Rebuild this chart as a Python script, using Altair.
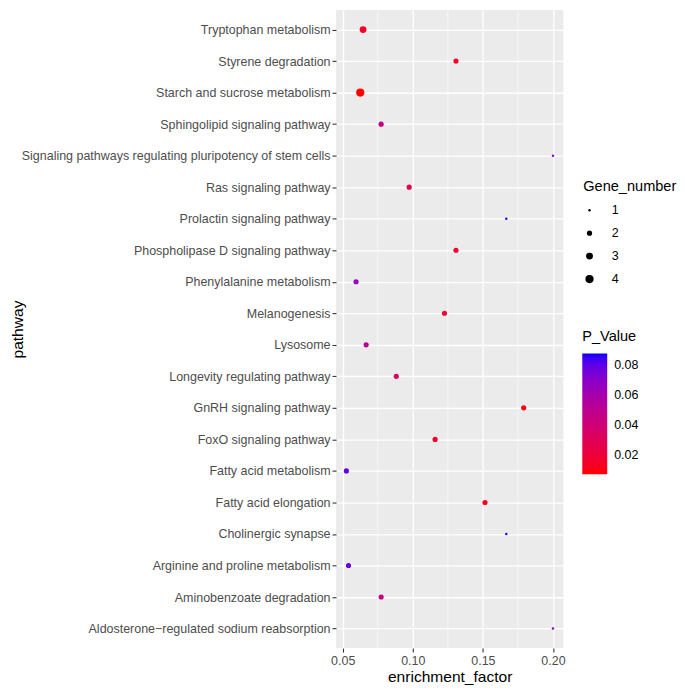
import altair as alt
import pandas as pd

pathways = [
    "Tryptophan metabolism",
    "Styrene degradation",
    "Starch and sucrose metabolism",
    "Sphingolipid signaling pathway",
    "Signaling pathways regulating pluripotency of stem cells",
    "Ras signaling pathway",
    "Prolactin signaling pathway",
    "Phospholipase D signaling pathway",
    "Phenylalanine metabolism",
    "Melanogenesis",
    "Lysosome",
    "Longevity regulating pathway",
    "GnRH signaling pathway",
    "FoxO signaling pathway",
    "Fatty acid metabolism",
    "Fatty acid elongation",
    "Cholinergic synapse",
    "Arginine and proline metabolism",
    "Aminobenzoate degradation",
    "Aldosterone\u2212regulated sodium reabsorption",
]
enrichment = [0.0645, 0.1308, 0.0625, 0.0774, 0.2000, 0.0974, 0.1667, 0.1308,
              0.0595, 0.1226, 0.0667, 0.0882, 0.1791, 0.1159, 0.0526, 0.1515,
              0.1667, 0.0541, 0.0774, 0.2000]
gene_number = [3, 2, 4, 2, 1, 2, 1, 2, 2, 2, 2, 2, 2, 2, 2, 2, 1, 2, 2, 1]
p_value = [0.015, 0.016, 0.007, 0.045, 0.070, 0.025, 0.087, 0.018, 0.065, 0.018,
           0.052, 0.035, 0.010, 0.016, 0.080, 0.012, 0.087, 0.078, 0.045, 0.070]

x_ticks = [0.05, 0.10, 0.15, 0.20]
x_minor = [0.075, 0.125, 0.175]

df = pd.DataFrame({
    "pathway": pathways,
    "enrichment_factor": enrichment,
    "Gene_number": gene_number,
    "P_Value": p_value,
})
minor_df = pd.DataFrame({"m": x_minor})

xscale = alt.Scale(domain=[0.0452, 0.2074], nice=False, zero=False)

minor = alt.Chart(minor_df).mark_rule(color="white", strokeWidth=0.6).encode(
    x=alt.X("m:Q", scale=xscale)
)

points = alt.Chart(df).mark_circle(opacity=1).encode(
    x=alt.X("enrichment_factor:Q", scale=xscale,
            axis=alt.Axis(values=x_ticks, format=".2f", title="enrichment_factor")),
    y=alt.Y("pathway:N", sort=pathways,
            scale=alt.Scale(type="point", padding=0.62),
            axis=alt.Axis(title="pathway", labelLimit=400, titleX=-311, titleY=320)),
    size=alt.Size("Gene_number:Q",
                  scale=alt.Scale(domain=[1, 4], range=[6, 68]),
                  legend=alt.Legend(values=[1, 2, 3, 4], format="d", orient="none",
                                    legendX=248, legendY=170, symbolFillColor="black",
                                    symbolStrokeWidth=0, rowPadding=10,
                                    labelOffset=16)),
    color=alt.Color("P_Value:Q",
                    scale=alt.Scale(domain=[0.007, 0.0875], range=["red", "blue"],
                                    interpolate="lab"),
                    legend=alt.Legend(values=[0.02, 0.04, 0.06, 0.08], format=".2f",
                                      orient="none", legendX=247, legendY=320,
                                      gradientLength=121, gradientThickness=25,
                                      labelOffset=7)),
)

chart = alt.layer(minor, points).properties(
    width=228, height=640,
    padding={"left": 3, "top": 0, "right": 0, "bottom": 0},
    background="white",
).configure_view(
    fill="#EBEBEB", stroke=None
).configure_axis(
    grid=True, gridColor="white", gridWidth=1.3, domain=False,
    tickColor="#333333", tickSize=4, tickWidth=1.1,
    labelFont="Liberation Sans", labelFontSize=12.5, labelColor="#4D4D4D",
    labelPadding=2,
    titleFont="Liberation Sans", titleFontSize=15.6, titleColor="black",
    titleFontWeight="normal",
).configure_axisX(
    titlePadding=3
).configure_legend(
    titleFont="Liberation Sans", titleFontSize=14.6, titleColor="black",
    titleFontWeight="normal", labelFont="Liberation Sans", labelFontSize=12.5,
    labelColor="black", titlePadding=10,
)

chart.save("out.html", embed_options={"renderer": "svg", "actions": False})
